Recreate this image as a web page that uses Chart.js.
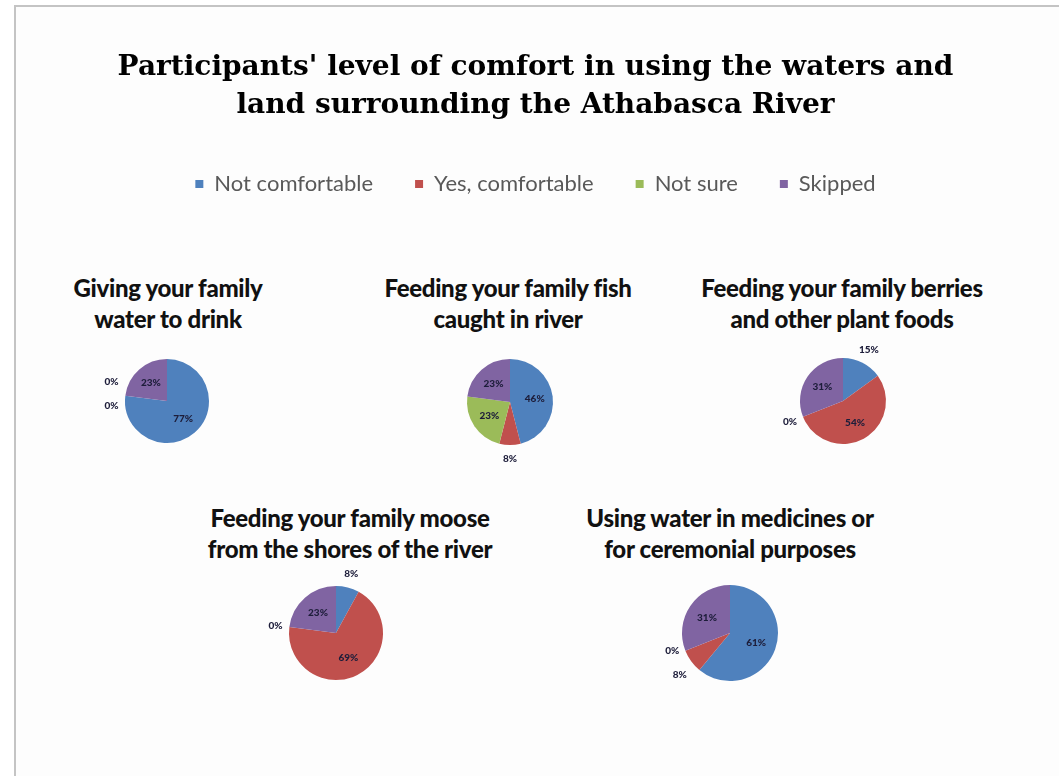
<!DOCTYPE html>
<html>
<head>
<meta charset="utf-8">
<script src="https://cdn.jsdelivr.net/npm/chart.js@4/dist/chart.umd.min.js"></script>
<style>
  html, body { margin:0; padding:0; background:#fff; }
  #page { position:relative; width:1059px; height:776px; overflow:hidden; background:#fff; }
  #frame { position:absolute; left:14px; top:5px; right:-2px; bottom:-2px; border-left:2px solid #c4c4c4; border-top:2px solid #c4c4c4; background:#fdfdfd; }
  canvas { position:absolute; }
  .sub { position:absolute; width:400px; text-align:center; font-family:Lato, 'Open Sans', sans-serif; font-weight:900; font-size:24px; line-height:31px; color:#111; white-space:nowrap; letter-spacing:-0.3px; }
</style>
</head>
<body>
<div id="page">
  <div id="frame"></div>
  <canvas id="header" width="1059" height="215" style="left:0;top:0"></canvas>
</div>
<script>
// ---- data ----
const categories = ['Not comfortable', 'Yes, comfortable', 'Not sure', 'Skipped'];
const sliceColors = ['#4F81BD', '#C0504D', '#9BBB59', '#8064A2'];
const mainTitle = ["Participants' level of comfort in using the waters and", 'land surrounding the Athabasca River'];
const waterToDrink = [77, 0, 0, 23];
const fishFromRiver = [46, 8, 23, 23];
const berriesAndPlants = [15, 54, 0, 31];
const mooseFromShores = [8, 69, 0, 23];
const medicinesCeremonial = [61, 8, 0, 31];
const titleWater = ['Giving your family', 'water to drink'];
const titleFish = ['Feeding your family fish', 'caught in river'];
const titleBerries = ['Feeding your family berries', 'and other plant foods'];
const titleMoose = ['Feeding your family moose', 'from the shores of the river'];
const titleMedicine = ['Using water in medicines or', 'for ceremonial purposes'];

// ---- header: title + legend ----
new Chart(document.getElementById('header'), {
  type: 'bar',
  data: { labels: [], datasets: [] },
  options: {
    responsive: false, animation: false,
    layout: { padding: { left: 12 } },
    scales: { x: { display: false }, y: { display: false } },
    plugins: {
      tooltip: { enabled: false },
      title: {
        display: true, text: mainTitle, color: '#000',
        font: { family: "'DejaVu Serif', serif", weight: 'bold', size: 28, lineHeight: '38px' },
        padding: { top: 49, bottom: 6 }
      },
      legend: {
        display: true, position: 'top',
        labels: {
          boxWidth: 8, boxHeight: 8, padding: 42, color: '#595959',
          font: { family: "Lato, 'Open Sans', sans-serif", size: 22 },
          generateLabels: () => categories.map((c, i) => ({
            text: c, fillStyle: sliceColors[i], strokeStyle: sliceColors[i], lineWidth: 0, hidden: false, fontColor: '#595959'
          }))
        }
      }
    }
  }
});

// ---- percentage labels ----
const pctLabels = {
  id: 'pctLabels',
  afterDatasetsDraw(chart) {
    const ctx = chart.ctx;
    const meta = chart.getDatasetMeta(0);
    const vals = chart.data.datasets[0].data;
    const items = [];
    meta.data.forEach((arc, i) => {
      const p = arc.getProps(['x', 'y', 'startAngle', 'endAngle', 'outerRadius'], true);
      const mid = (p.startAngle + p.endAngle) / 2;
      const v = vals[i];
      const inside = v >= 20;
      const d = inside ? p.outerRadius * 0.58 : p.outerRadius + 14;
      items.push({ text: v + '%', x: p.x + Math.cos(mid) * d, y: p.y + Math.sin(mid) * d, inside });
    });
    const out = items.filter(it => !it.inside).sort((a, b) => a.y - b.y);
    for (let i = 1; i < out.length; i++) {
      const a = out[i - 1], b = out[i];
      if (Math.abs(a.x - b.x) < 30 && b.y - a.y < 24) { const m = (a.y + b.y) / 2; a.y = m - 12; b.y = m + 12; }
    }
    ctx.save();
    ctx.font = "900 10px Lato, 'Open Sans', sans-serif";
    ctx.textAlign = 'center';
    ctx.textBaseline = 'middle';
    ctx.fillStyle = '#1d1d3a';
    items.forEach(it => ctx.fillText(it.text, it.x, it.y));
    ctx.restore();
  }
};

// ---- pies ----
const page = document.getElementById('page');
function makePie(values, titleLines, cx, cy, r, titleY) {
  const sub = document.createElement('div');
  sub.className = 'sub';
  sub.style.left = (titleLines.cx - 200) + 'px';
  sub.style.top = (titleY - 15.5) + 'px';
  sub.innerHTML = titleLines.lines.join('<br>');
  page.appendChild(sub);
  const W = 220, H = 180;
  const cv = document.createElement('canvas');
  cv.width = W; cv.height = H;
  cv.style.left = (cx - W / 2) + 'px';
  cv.style.top = (cy - H / 2) + 'px';
  page.appendChild(cv);
  new Chart(cv, {
    type: 'pie',
    data: { labels: categories, datasets: [{ data: values, backgroundColor: sliceColors, borderWidth: 0 }] },
    options: {
      responsive: false, animation: false,
      layout: { padding: { left: W / 2 - r, right: W / 2 - r, top: H / 2 - r, bottom: H / 2 - r } },
      plugins: { legend: { display: false }, tooltip: { enabled: false }, title: { display: false } }
    },
    plugins: [pctLabels]
  });
}
makePie(waterToDrink, { lines: titleWater, cx: 168 }, 167, 401, 42, 287);
makePie(fishFromRiver, { lines: titleFish, cx: 508 }, 510, 402, 43, 287);
makePie(berriesAndPlants, { lines: titleBerries, cx: 842 }, 843, 401, 43, 287);
makePie(mooseFromShores, { lines: titleMoose, cx: 350 }, 336, 633, 47, 517);
makePie(medicinesCeremonial, { lines: titleMedicine, cx: 730 }, 730, 633, 48, 517);
</script>
</body>
</html>
